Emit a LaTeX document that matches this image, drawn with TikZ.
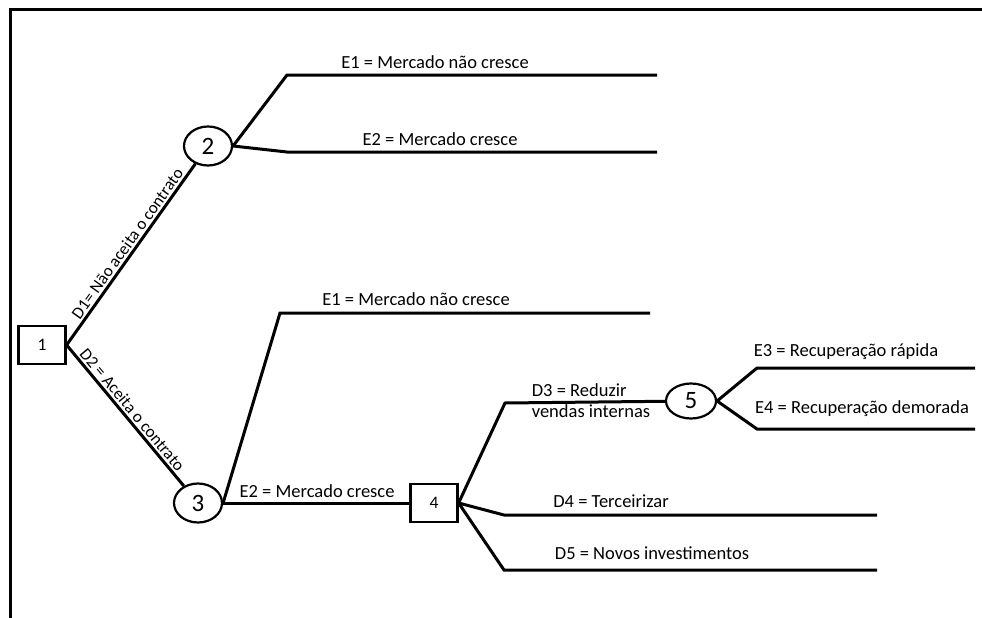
\documentclass[tikz,border=0pt]{standalone}
\usepackage{fontspec}
\setmainfont{Carlito}
\usetikzlibrary{shapes.geometric,positioning}

\begin{document}
\begin{tikzpicture}
[x=1pt,y=-1pt,line width=3pt,
    dec/.style={draw,shape=rectangle,minimum width=47pt,minimum height=38pt,inner sep=0pt,line width=2.2pt,font=\fontsize{17.5}{19}\selectfont},
    chance/.style={draw,shape=ellipse,minimum width=48pt,minimum height=39pt,inner sep=0pt,line width=2.2pt,font=\fontsize{25}{27}\selectfont},
    lab/.style={font=\fontsize{18.5}{21}\selectfont,inner sep=1pt},
    slab/.style={font=\fontsize{17}{19}\selectfont,inner sep=1pt,sloped,above=1pt},
    branch/.style={line width=3pt,line join=miter}]
\useasboundingbox (0,0) rectangle (982,618);
%%%%% frame
\draw[line width=3pt] (10,618) -- (10,10) -- (982,10);
%%%%% nodes
\node (n1) [dec] at (42,345) {1};
\node (n2) [chance] at (208,146) {2};
\node (n3) [chance] at (198,503) {3};
\node (n4) [dec] at (434,503) {4};
\node (n5) [chance,minimum width=50pt,minimum height=35pt] at (691,401) {5};
%% corners and ends
\coordinate (c21) at (287,75);  \coordinate (e21) at (657,75);
\coordinate (c22) at (287,152); \coordinate (e22) at (657,152);
\coordinate (c31) at (280,313); \coordinate (e31) at (650,313);
\coordinate (c43) at (505,403);
\coordinate (c44) at (504,515); \coordinate (e44) at (877,515);
\coordinate (c45) at (504,570); \coordinate (e45) at (877,570);
\coordinate (c51) at (757,368); \coordinate (e51) at (975,368);
\coordinate (c52) at (757,429); \coordinate (e52) at (975,429);
%%%%% decisions out of 1
\draw[branch] (n1.east) -- node[slab,pos=.53]{D1= Não aceita o contrato} (n2);
\draw[branch] (n1.east) -- node[slab,pos=.5]{D2 = Aceita o contrato} (n3);
%% events out of 2
\draw[branch] (n2.east) -- (c21) -- (e21);
\draw[branch] (n2.east) -- (c22) -- (e22);
\node (l21) [lab] at (435,62) {E1 = Mercado não cresce};
\node (l22) [lab] at (440,139) {E2 = Mercado cresce};
%% events out of 3
\draw[branch] (n3.east) -- (c31) -- (e31);
\draw[branch] (n3.east) -- (n4);
\node (l31) [lab] at (416,299) {E1 = Mercado não cresce};
\node (l32) [lab] at (317,491) {E2 = Mercado cresce};
%% decisions out of 4
\draw[branch] (n4.east) -- (c43) -- (n5);
\draw[branch] (n4.east) -- (c44) -- (e44);
\draw[branch] (n4.east) -- (c45) -- (e45);
\node (l43) [lab,align=left] at (591,401) {D3 = Reduzir\\vendas internas};
\node (l44) [lab] at (611,501) {D4 = Terceirizar};
\node (l45) [lab] at (652,553) {D5 = Novos investimentos};
%% events out of 5
\draw[branch] (n5.east) -- (c51) -- (e51);
\draw[branch] (n5.east) -- (c52) -- (e52);
\node (l51) [lab] at (846,352) {E3 = Recuperação rápida};
\node (l52) [lab] at (862,409) {E4 = Recuperação demorada};
\end{tikzpicture}
\end{document}
